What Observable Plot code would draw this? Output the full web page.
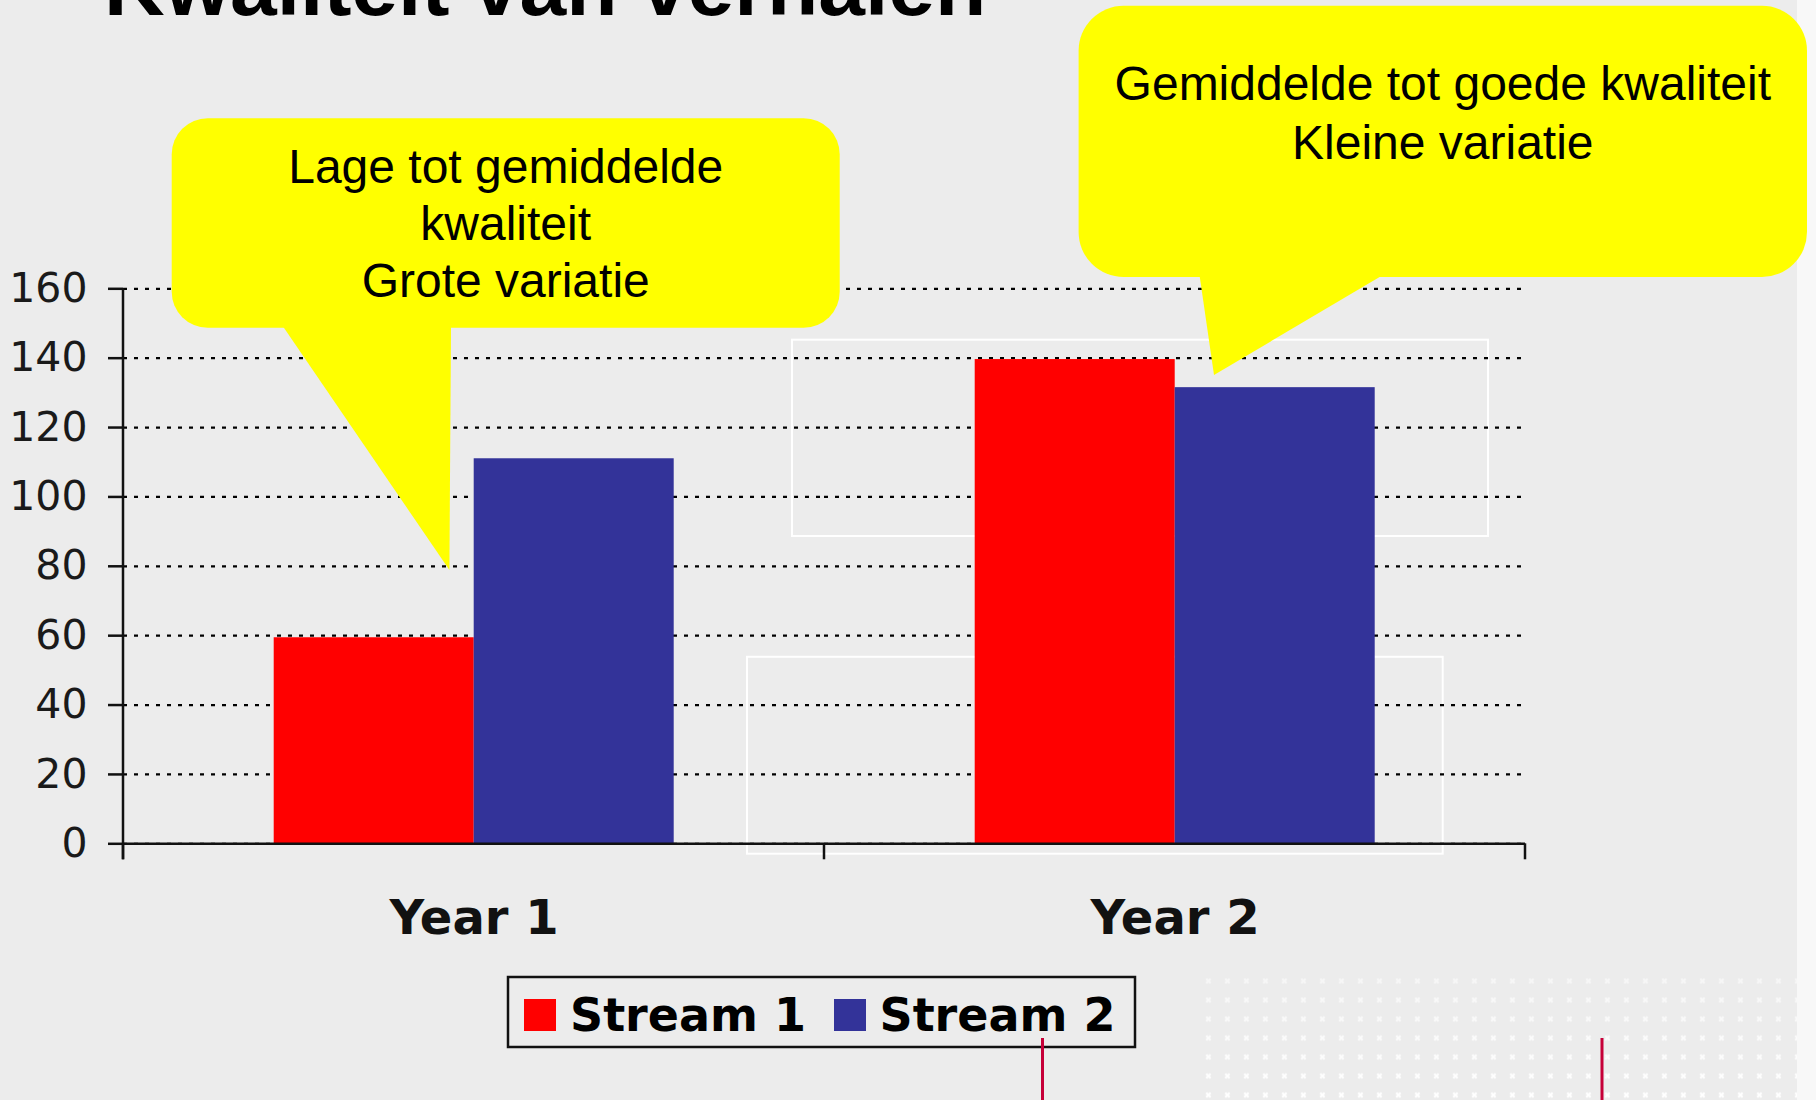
<!DOCTYPE html>
<html><head><meta charset="utf-8">
<script src="https://cdn.jsdelivr.net/npm/d3@7"></script>
<script src="https://cdn.jsdelivr.net/npm/@observablehq/plot@0.6"></script>
<style>
html,body{margin:0;padding:0;background:#ececec;}
#root{position:relative;width:1816px;height:1100px;overflow:hidden;background:#ececec;}
#root > svg{position:absolute;left:0;top:0;}
</style></head><body><div id="root"></div>
<script>
// ---- data ----
const titleText = "Kwaliteit van verhalen";
const years = ["Year 1", "Year 2"];
const streams = ["Stream 1", "Stream 2"];
const stream1Values = [59.4, 139.6];
const stream2Values = [111, 131.5];
const streamColors = ["#ff0000", "#333399"];
const yTicks = [0, 20, 40, 60, 80, 100, 120, 140, 160];
const bubble1Lines = ["Lage tot gemiddelde", "kwaliteit", "Grote variatie"];
const bubble2Lines = ["Gemiddelde tot goede kwaliteit", "Kleine variatie"];

const data = years.flatMap((year, i) => [
  {year, stream: streams[0], value: stream1Values[i]},
  {year, stream: streams[1], value: stream2Values[i]}
]);

const W = 1816, H = 1100;
const root = d3.select("#root");

// ---- background decorations ----
const bg = root.append("svg").attr("width", W).attr("height", H);
const defs = bg.append("defs");
const pat = defs.append("pattern").attr("id", "xgrid").attr("patternUnits", "userSpaceOnUse")
  .attr("x", 1198.9).attr("y", 971.5).attr("width", 19).attr("height", 19);
pat.append("path").attr("d", "M7.3,7.3L11.7,11.7M11.7,7.3L7.3,11.7").attr("stroke", "#ffffff").attr("stroke-width", 2.2);
const grad = defs.append("linearGradient").attr("id", "fadeG").attr("x1", 0).attr("y1", 0).attr("x2", 0).attr("y2", 1);
grad.append("stop").attr("offset", "0").attr("stop-color", "#fff").attr("stop-opacity", 0.5);
grad.append("stop").attr("offset", "1").attr("stop-color", "#fff").attr("stop-opacity", 1);
const mask = defs.append("mask").attr("id", "fadeM");
mask.append("rect").attr("x", 1195).attr("y", 970).attr("width", 610).attr("height", 130).attr("fill", "url(#fadeG)");
bg.append("rect").attr("x", 1797).attr("y", 0).attr("width", 19).attr("height", H).attr("fill", "#f8f8f8");
bg.append("rect").attr("x", 1195).attr("y", 970).attr("width", 602).attr("height", 130)
  .attr("fill", "url(#xgrid)").attr("mask", "url(#fadeM)");
bg.append("rect").attr("x", 792).attr("y", 339.7).attr("width", 696).attr("height", 196.3)
  .attr("fill", "none").attr("stroke", "#ffffff").attr("stroke-width", 2);
bg.append("rect").attr("x", 747).attr("y", 656.8).attr("width", 695.7).attr("height", 196.9)
  .attr("fill", "none").attr("stroke", "#ffffff").attr("stroke-width", 2);

// ---- chart ----
const chart = Plot.plot({
  width: W, height: H,
  marginLeft: 122.3, marginRight: 290, marginTop: 288.3, marginBottom: 256.7,
  style: {background: "transparent", fontFamily: "'DejaVu Sans', Verdana, sans-serif", color: "#1a1a1a", overflow: "visible"},
  fx: {domain: years, padding: 0, label: null},
  x: {domain: streams, paddingInner: 0, paddingOuter: 0.7463, axis: null},
  y: {domain: [0, 160], label: null},
  color: {domain: streams, range: streamColors},
  marks: [
    Plot.gridY(yTicks, {stroke: "#000", strokeOpacity: 1, strokeWidth: 2.2, strokeDasharray: "4,7"}),
    Plot.barY(data, {fx: "year", x: "stream", y: "value", fill: "stream"}),
    Plot.ruleY([0], {stroke: "#111", strokeWidth: 2.5}),
    Plot.axisY(yTicks, {tickSize: 15, tickPadding: 21, fontSize: 41, strokeWidth: 2.5, stroke: "#111", label: null}),
    Plot.axisFx({anchor: "bottom", tickSize: 0, tickPadding: 56, fontSize: 48, fontWeight: "bold", fill: "#111", label: null})
  ]
});
root.node().appendChild(chart);

// axis line & boundary ticks from the library's scales
const ys = chart.scale("y"), fxs = chart.scale("fx");
const y0 = ys.apply(0), yTop = ys.apply(d3.max(yTicks));
const bounds = years.map(v => fxs.apply(v)).concat([fxs.apply(years[years.length - 1]) + fxs.bandwidth]);
const cs = d3.select(chart).append("g").attr("stroke", "#111").attr("stroke-width", 2.5);
cs.append("line").attr("x1", bounds[0]).attr("x2", bounds[0]).attr("y1", yTop).attr("y2", y0 + 16);
bounds.forEach(b => cs.append("line").attr("x1", b).attr("x2", b).attr("y1", y0).attr("y2", y0 + 16));

// ---- foreground: title, callouts, legend ----
const fg = root.append("svg").attr("width", W).attr("height", H);
fg.append("text").text(titleText).attr("x", 104).attr("y", 15)
  .attr("font-family", "'Liberation Sans', Arial, sans-serif").attr("font-weight", "bold").attr("font-size", 84).attr("fill", "#000");

function bubble(rect, tail, lines, cx, baselines) {
  const g = fg.append("g");
  g.append("rect").attr("x", rect[0]).attr("y", rect[1]).attr("width", rect[2]).attr("height", rect[3])
    .attr("rx", rect[4]).attr("ry", rect[4]).attr("fill", "#ffff00");
  g.append("polygon").attr("points", tail.map(p => p.join(",")).join(" ")).attr("fill", "#ffff00");
  lines.forEach((t, i) => g.append("text").text(t).attr("x", cx).attr("y", baselines[i])
    .attr("text-anchor", "middle").attr("font-family", "'Liberation Sans', Arial, sans-serif")
    .attr("font-size", 48).attr("fill", "#000"));
}
bubble([171.7, 118.3, 668, 209.4, 36], [[282.7, 326], [451, 326], [449.4, 570]], bubble1Lines, 505.7, [183, 240, 297]);
bubble([1078.6, 5.7, 728.4, 271.3, 45], [[1199.5, 275], [1383, 275], [1214, 375]], bubble2Lines, 1442.8, [100, 159]);

// legend
const lg = fg.append("g");
lg.append("rect").attr("x", 508).attr("y", 977).attr("width", 627).attr("height", 70)
  .attr("fill", "none").attr("stroke", "#111").attr("stroke-width", 2.5);
const legX = [[524, 570], [834, 879.5]];
streams.forEach((s, i) => {
  lg.append("rect").attr("x", legX[i][0]).attr("y", 999).attr("width", 32).attr("height", 32).attr("fill", streamColors[i]);
  lg.append("text").text(s).attr("x", legX[i][1]).attr("y", 1031)
    .attr("font-family", "'DejaVu Sans', Verdana, sans-serif").attr("font-weight", "bold").attr("font-size", 46).attr("fill", "#000");
});

// decorative red lines
[1042.5, 1602].forEach(x => fg.append("line").attr("x1", x).attr("x2", x).attr("y1", 1038).attr("y2", H)
  .attr("stroke", "#c60038").attr("stroke-width", 3));
</script>
</body></html>
